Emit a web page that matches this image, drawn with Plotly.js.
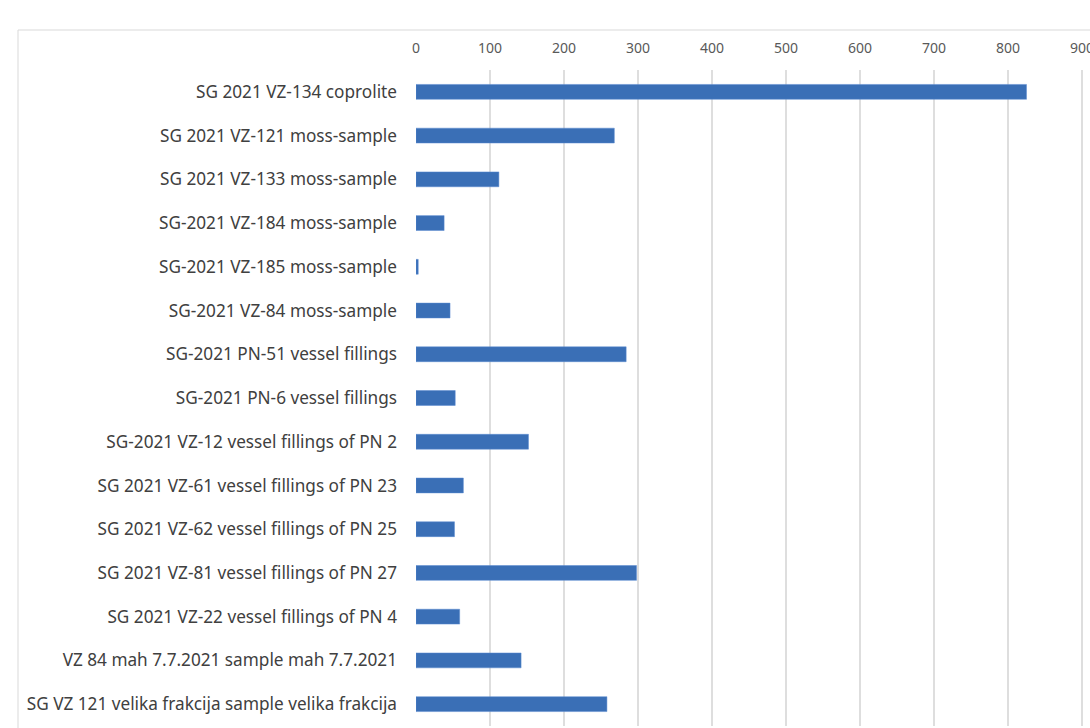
<!DOCTYPE html>
<html>
<head>
<meta charset="utf-8">
<script src="https://cdn.plot.ly/plotly-3.0.1.min.js"></script>
<style>html,body{margin:0;padding:0;background:#fff;}#chart{width:1090px;height:728px;}</style>
</head>
<body>
<div id="chart"></div>
<script>
const categories = [
  "SG 2021 VZ-134 coprolite",
  "SG 2021 VZ-121 moss-sample",
  "SG 2021 VZ-133 moss-sample",
  "SG-2021 VZ-184 moss-sample",
  "SG-2021 VZ-185 moss-sample",
  "SG-2021 VZ-84 moss-sample",
  "SG-2021 PN-51 vessel fillings",
  "SG-2021 PN-6 vessel fillings",
  "SG-2021 VZ-12 vessel fillings of PN 2",
  "SG 2021 VZ-61 vessel fillings of PN 23",
  "SG 2021 VZ-62 vessel fillings of PN 25",
  "SG 2021 VZ-81 vessel fillings of PN 27",
  "SG 2021 VZ-22 vessel fillings of PN 4",
  "VZ 84 mah 7.7.2021 sample mah 7.7.2021",
  "SG VZ 121 velika frakcija sample velika frakcija"
];
const values = [825, 268, 112, 38, 3, 46, 284, 53, 152, 64, 52, 298, 59, 142, 258];
const tickValues = [0, 100, 200, 300, 400, 500, 600, 700, 800, 900];

const trace = {
  type: 'bar',
  orientation: 'h',
  x: values,
  y: categories,
  marker: {color: '#3A6FB6', line: {color: '#5B8BD0', width: 0.5}},
  width: 0.34,
  hoverinfo: 'x+y'
};

const layout = {
  width: 1090, height: 728,
  margin: {l: 416, r: 0, t: 70, b: 2, pad: 0},
  paper_bgcolor: '#ffffff',
  plot_bgcolor: '#ffffff',
  showlegend: false,
  font: {family: 'Noto Sans, Liberation Sans, Arial, sans-serif', color: '#595959', size: 15},
  xaxis: {
    side: 'top',
    range: [0, 910.8],
    tickvals: tickValues,
    ticktext: tickValues.map(String),
    showgrid: true,
    gridcolor: '#dedede',
    gridwidth: 1.5,
    zeroline: false,
    showline: false,
    ticks: '',
    ticklabelstandoff: 13,
    ticklabeloverflow: 'allow',
    tickfont: {size: 14, color: '#595959'},
    fixedrange: true
  },
  yaxis: {
    autorange: 'reversed',
    showgrid: false,
    zeroline: false,
    showline: false,
    ticks: '',
    ticklabelstandoff: 18,
    tickfont: {size: 17.2, color: '#404040'},
    fixedrange: true
  },
  shapes: [{
    type: 'rect', xref: 'paper', yref: 'paper',
    x0: (18 - 416) / 674, x1: 1.3,
    y0: -0.2, y1: (726 - 30) / 656,
    line: {color: '#d9d9d9', width: 1},
    fillcolor: 'rgba(0,0,0,0)',
    layer: 'below'
  }]
};

Plotly.newPlot('chart', [trace], layout, {displayModeBar: false, staticPlot: true});
</script>
</body>
</html>
